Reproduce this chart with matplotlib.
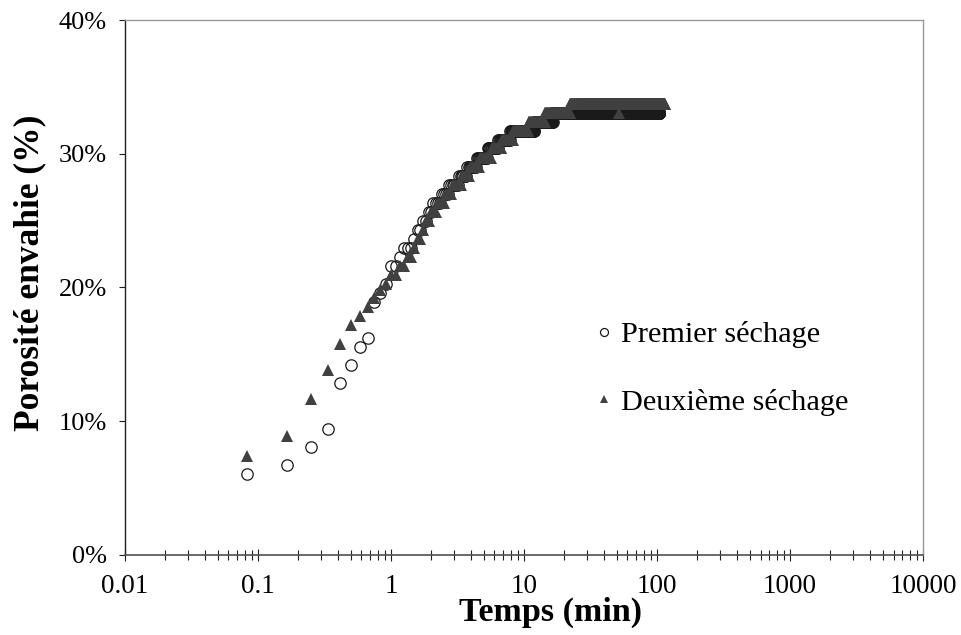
import numpy as np
import matplotlib
matplotlib.use("Agg")
import matplotlib.pyplot as plt

plt.rcParams['font.family'] = ['Liberation Serif', 'DejaVu Serif']

# measurements every 5 s; porosity in %, read off the picture as
# (time in min where a level is first reached, level)
dt = 5.0 / 60.0

prem_start = [0.083, 0.167, 0.25, 0.333, 0.417, 0.5, 0.583, 0.667, 0.75, 0.833,
              0.917, 1.0, 1.167, 1.25, 1.45, 1.55, 1.72, 1.9, 2.1, 2.4,
              2.7, 3.2, 3.7, 4.4, 5.3, 6.4, 7.9, 12.0, 16.5]
prem_level = [6.08, 6.75, 8.1, 9.45, 12.83, 14.18, 15.53, 16.2, 18.9, 19.6,
              20.25, 21.6, 22.3, 22.95, 23.6, 24.3, 25.0, 25.65, 26.3, 27.0,
              27.7, 28.35, 29.0, 29.7, 30.4, 31.05, 31.7, 32.4, 33.08]
prem_end = 104.0

deux_start = [0.083, 0.167, 0.25, 0.333, 0.417, 0.5, 0.583, 0.667, 0.75, 0.833,
              0.917, 1.0, 1.167, 1.33, 1.44, 1.56, 1.7, 1.85, 2.02, 2.27,
              2.55, 2.86, 3.4, 3.93, 4.67, 5.7, 6.8, 8.3, 10.8, 14.4,
              22.2, 52.0, 52.1]
deux_level = [7.43, 8.9, 11.65, 13.8, 15.8, 17.2, 17.9, 18.55, 19.2, 19.8,
              20.25, 20.9, 21.6, 22.3, 22.95, 23.6, 24.3, 25.0, 25.65, 26.3,
              27.0, 27.7, 28.35, 29.0, 29.7, 30.4, 31.05, 31.7, 32.4, 33.08,
              33.75, 33.08, 33.75]
deux_end = 114.0

x_ticks = [0.01, 0.1, 1, 10, 100, 1000, 10000]
x_ticklabels = ['0.01', '0.1', '1', '10', '100', '1000', '10000']
y_ticks = [0, 10, 20, 30, 40]
y_ticklabels = ['0%', '10%', '20%', '30%', '40%']


def expand(starts, levels, t_end):
    # run-length readings -> one point per 5 s sample
    t = np.arange(1, int(round(t_end / dt)) + 1) * dt
    idx = np.searchsorted(np.array(starts), t + 0.02, side='right') - 1
    return t, np.array(levels)[idx]


t1, p1 = expand(prem_start, prem_level, prem_end)
t2, p2 = expand(deux_start, deux_level, deux_end)

fig = plt.figure(figsize=(9.61, 6.35), dpi=100)
ax = fig.add_axes([0.130, 0.126, 0.8305, 0.8425])

ax.plot(t1, p1, linestyle='none', marker='o', markersize=8.2,
        markerfacecolor='none', markeredgecolor='#1a1a1a', markeredgewidth=0.9,
        label='Premier séchage')
ax.plot(t2, p2, linestyle='none', marker='^', markersize=8.6,
        color='#404040', markeredgewidth=0, label='Deuxième séchage')

ax.set_xscale('log')
ax.set_xlim(0.01, 10000)
ax.set_ylim(0, 40)
ax.set_xticks(x_ticks, x_ticklabels)
ax.set_yticks(y_ticks, y_ticklabels)
ax.xaxis.set_minor_locator(matplotlib.ticker.LogLocator(base=10, subs=np.arange(2, 10)))
ax.xaxis.set_minor_formatter(matplotlib.ticker.NullFormatter())

ax.tick_params(axis='x', which='major', direction='inout', length=9, width=0.8,
               color='#202020', labelsize=19.5, pad=9)
ax.tick_params(axis='x', which='minor', direction='inout', length=7, width=0.8,
               color='#202020')
ax.tick_params(axis='y', which='major', direction='out', length=4, width=0.8,
               color='#202020', labelsize=19, pad=9)

for s in ['top', 'right']:
    ax.spines[s].set_color('#999999')
    ax.spines[s].set_linewidth(1.0)
ax.spines['left'].set_color('#202020')
ax.spines['left'].set_linewidth(1.0)
ax.spines['bottom'].set_color('#505050')
ax.spines['bottom'].set_linewidth(1.2)

ax.set_xlabel('Temps (min)', fontsize=24.5, fontweight='bold')
ax.set_ylabel('Porosité envahie (%)', fontsize=25.5, fontweight='bold')
ax.xaxis.set_label_coords(0.533, -0.079)
ax.yaxis.set_label_coords(-0.099, 0.527)

ax.legend(loc='upper left', bbox_to_anchor=(0.589, 0.437), frameon=False,
          fontsize=21.8, markerscale=0.7, handlelength=0.6, handletextpad=0.25,
          labelspacing=1.32, borderpad=0, borderaxespad=0)

fig.savefig('out.png', dpi=100)
